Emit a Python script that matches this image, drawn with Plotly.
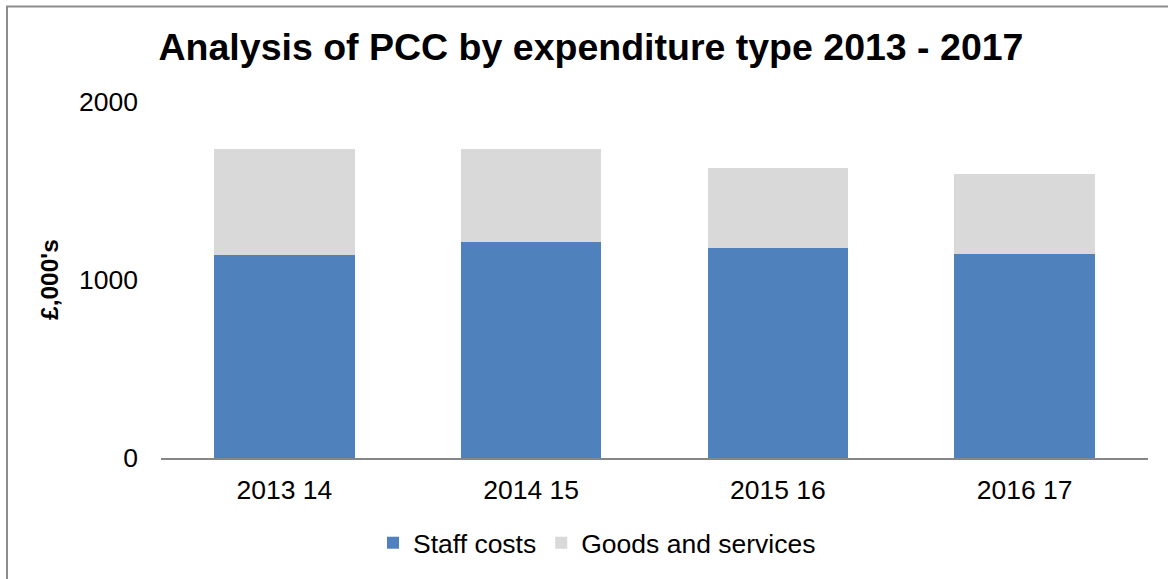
import plotly.graph_objects as go

categories = ["2013 14", "2014 15", "2015 16", "2016 17"]
staff_costs = [1140, 1212, 1178, 1146]
goods_services = [594, 522, 449, 451]
y_ticks = [0, 1000, 2000]

FONT = "Liberation Sans, Arial, sans-serif"
TXT = 26.5

fig = go.Figure()
fig.add_trace(go.Bar(name="Staff costs", x=categories, y=staff_costs,
                     marker=dict(color="#4F81BD", line=dict(width=0))))
fig.add_trace(go.Bar(name="Goods and services", x=categories, y=goods_services,
                     marker=dict(color="#D9D9D9", line=dict(width=0))))

W, H = 1168, 579
L, R, T, B = 161, 20, 102, 121
pw, ph = W - L - R, H - T - B

def px_x(x):
    return (x - L) / pw

def px_y(y):
    return (H - B - y) / ph

fig.update_layout(
    width=W, height=H,
    barmode="stack", bargap=0.43,
    plot_bgcolor="white", paper_bgcolor="white",
    margin=dict(l=L, r=R, t=T, b=B, autoexpand=False),
    font=dict(family=FONT, color="black", size=TXT),
    title=dict(text="<b>Analysis of PCC by expenditure type 2013 - 2017</b>",
               font=dict(family=FONT, size=37.5, color="black"),
               xref="container", x=591 / W, xanchor="center",
               yref="container", y=1 - 47 / H, yanchor="middle"),
    legend=dict(orientation="h", xref="paper", x=px_x(597), xanchor="center",
                yref="paper", y=px_y(543), yanchor="middle",
                font=dict(family=FONT, size=TXT, color="black"),
                traceorder="normal", bgcolor="rgba(0,0,0,0)"),
    xaxis=dict(showline=True, linecolor="#868686", linewidth=1.5,
               ticks="", showgrid=False, zeroline=False,
               tickfont=dict(family=FONT, size=TXT, color="black"),
               ticklabelstandoff=7),
    yaxis=dict(range=[0, 2000], tickvals=y_ticks, showgrid=False, zeroline=False,
               showline=False, ticks="",
               tickfont=dict(family=FONT, size=TXT, color="black"),
               ticklabelstandoff=22),
    showlegend=True,
)

fig.add_annotation(text="<b>£,000's</b>", textangle=-90, showarrow=False,
                   xref="paper", yref="paper", x=px_x(49), y=px_y(280),
                   xanchor="center", yanchor="middle",
                   font=dict(family=FONT, size=24.5, color="black"))

fig.add_shape(type="rect", xref="paper", yref="paper",
              x0=px_x(7), x1=px_x(1180), y0=px_y(590), y1=px_y(6.5),
              line=dict(color="#8C8C8C", width=2), fillcolor="rgba(0,0,0,0)",
              layer="below")

fig.write_html("out.html")
